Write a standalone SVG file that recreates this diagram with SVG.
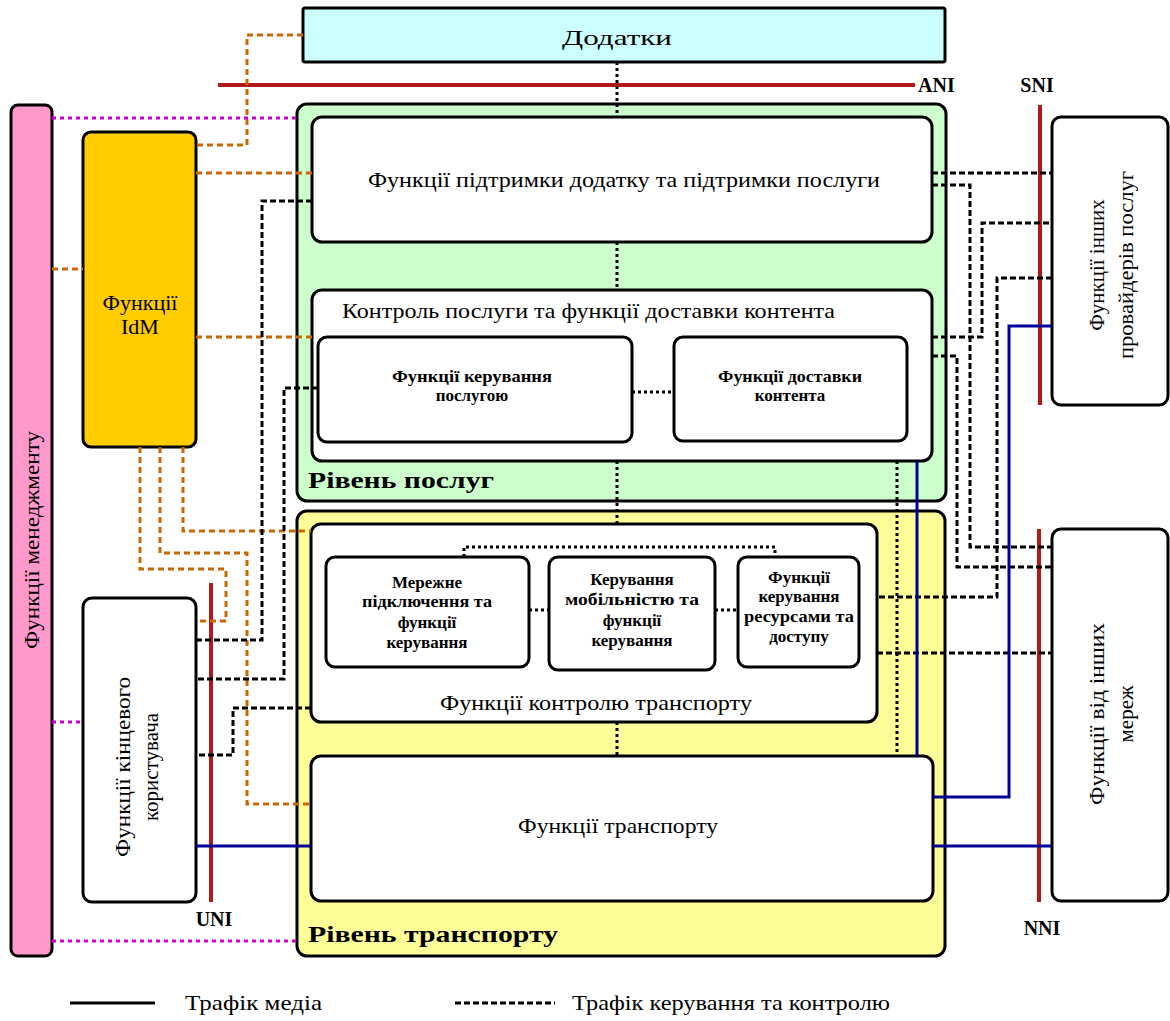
<svg xmlns="http://www.w3.org/2000/svg" width="1170" height="1021" viewBox="0 0 1170 1021">
  <style>
    .t{font-family:"Liberation Serif","DejaVu Serif Condensed","DejaVu Serif",serif;fill:#000}
    .c{text-anchor:middle}
    .b{font-weight:bold}
    .s{font-size:17px}
    .box{fill:#fff;stroke:#000;stroke-width:3}
    .ctl{fill:none;stroke:#000;stroke-width:3;stroke-dasharray:6 3}
    .dot{fill:none;stroke:#000;stroke-width:3;stroke-dasharray:3 3}
    .idm{fill:none;stroke:#cc6600;stroke-width:3;stroke-dasharray:6 4}
    .mg{fill:none;stroke:#cc00cc;stroke-width:3;stroke-dasharray:4 4}
    .media{fill:none;stroke:#000099;stroke-width:3}
    .ref{fill:none;stroke:#b01a1a;stroke-width:4}
  </style>
  <rect width="1170" height="1021" fill="#fff"/>

  <!-- strata backgrounds -->
  <g id="service-stratum">
    <rect x="297" y="104" width="649" height="397" rx="10" fill="#ccffcc" stroke="#000" stroke-width="3"/>
    <text class="t b" x="308" y="488" font-size="24" textLength="186" lengthAdjust="spacingAndGlyphs">Рівень послуг</text>
  </g>
  <g id="transport-stratum">
    <rect x="297" y="511" width="648" height="445" rx="10" fill="#ffff99" stroke="#000" stroke-width="3"/>
    <text class="t b" x="308" y="942" font-size="24" textLength="250" lengthAdjust="spacingAndGlyphs">Рівень транспорту</text>
  </g>

  <g id="applications">
    <rect x="303" y="8" width="642" height="54" rx="2" fill="#ccffff" stroke="#000" stroke-width="3"/>
    <text class="t c" x="617" y="45" font-size="22" textLength="110" lengthAdjust="spacingAndGlyphs">Додатки</text>
  </g>

  <g id="management">
    <rect x="11" y="105" width="41" height="851" rx="7" fill="#ff99cc" stroke="#000" stroke-width="3"/>
    <text class="t c" transform="translate(32,540) rotate(-90)" y="7" font-size="21" textLength="218" lengthAdjust="spacingAndGlyphs">Функції менеджменту</text>
  </g>

  <g id="idm">
    <rect x="83" y="132" width="113" height="315" rx="8" fill="#ffcc00" stroke="#000" stroke-width="3"/>
    <text class="t c" x="140" y="310" font-size="22">Функції</text>
    <text class="t c" x="140" y="334" font-size="22">IdM</text>
  </g>

  <g id="app-support">
    <rect class="box" x="312" y="117" width="620" height="125" rx="10"/>
    <text class="t c" x="624" y="187" font-size="22" textLength="512" lengthAdjust="spacingAndGlyphs">Функції підтримки додатку та підтримки послуги</text>
  </g>

  <g id="service-control">
    <rect class="box" x="312" y="290" width="620" height="171" rx="10"/>
    <text class="t" x="342" y="318" font-size="22" textLength="493" lengthAdjust="spacingAndGlyphs">Контроль послуги та функції доставки контента</text>
  </g>
  <g id="service-control-fn">
    <rect class="box" x="318" y="337" width="314" height="105" rx="9"/>
    <text class="t c b s" x="472" y="382" textLength="160" lengthAdjust="spacingAndGlyphs">Функції керування</text>
    <text class="t c b s" x="472" y="401">послугою</text>
  </g>
  <g id="content-delivery">
    <rect class="box" x="674" y="337" width="233" height="104" rx="9"/>
    <text class="t c b s" x="790" y="382" textLength="144" lengthAdjust="spacingAndGlyphs">Функції доставки</text>
    <text class="t c b s" x="790" y="401">контента</text>
  </g>

  <g id="transport-control">
    <rect class="box" x="311" y="524" width="566" height="198" rx="10"/>
    <text class="t c" x="596" y="710" font-size="22" textLength="312" lengthAdjust="spacingAndGlyphs">Функції контролю транспорту</text>
  </g>
  <g id="network-attachment">
    <rect class="box" x="326" y="557" width="203" height="110" rx="9"/>
    <text class="t c b s" x="427" y="588">Мережне</text>
    <text class="t c b s" x="427" y="607" textLength="130" lengthAdjust="spacingAndGlyphs">підключення та</text>
    <text class="t c b s" x="427" y="628">функції</text>
    <text class="t c b s" x="427" y="648">керування</text>
  </g>
  <g id="mobility">
    <rect class="box" x="549" y="557" width="166" height="113" rx="9"/>
    <text class="t c b s" x="632" y="585">Керування</text>
    <text class="t c b s" x="632" y="605" textLength="134" lengthAdjust="spacingAndGlyphs">мобільністю та</text>
    <text class="t c b s" x="632" y="626">функції</text>
    <text class="t c b s" x="632" y="646">керування</text>
  </g>
  <g id="resource-access">
    <rect class="box" x="738" y="557" width="121" height="110" rx="9"/>
    <text class="t c b s" x="799" y="583">Функції</text>
    <text class="t c b s" x="799" y="602">керування</text>
    <text class="t c b s" x="799" y="622" textLength="110" lengthAdjust="spacingAndGlyphs">ресурсами та</text>
    <text class="t c b s" x="799" y="642">доступу</text>
  </g>

  <g id="transport">
    <rect class="box" x="311" y="756" width="622" height="145" rx="10"/>
    <text class="t c" x="618" y="833" font-size="22" textLength="200" lengthAdjust="spacingAndGlyphs">Функції транспорту</text>
  </g>

  <g id="end-user">
    <rect class="box" x="83" y="598" width="113" height="304" rx="9"/>
    <g transform="translate(140,767) rotate(-90)">
      <text class="t c" y="-10" font-size="21" textLength="180" lengthAdjust="spacingAndGlyphs">Функції кінцевого</text>
      <text class="t c" y="18" font-size="21">користувача</text>
    </g>
  </g>

  <g id="other-providers">
    <rect class="box" x="1052" y="117" width="116" height="288" rx="9"/>
    <g transform="translate(1110,265) rotate(-90)">
      <text class="t c" y="-6" font-size="21">Функції інших</text>
      <text class="t c" y="23" font-size="21" textLength="188" lengthAdjust="spacingAndGlyphs">провайдерів послуг</text>
    </g>
  </g>

  <g id="other-networks">
    <rect class="box" x="1052" y="529" width="116" height="372" rx="9"/>
    <g transform="translate(1110,714) rotate(-90)">
      <text class="t c" y="-6" font-size="21" textLength="182" lengthAdjust="spacingAndGlyphs">Функції від інших</text>
      <text class="t c" y="23" font-size="21">мереж</text>
    </g>
  </g>

  <!-- reference points -->
  <g id="reference-points">
    <path class="ref" d="M218,85 H915"/>
    <path class="ref" d="M1040,105 V405"/>
    <path class="ref" d="M1039,529 V902"/>
    <path class="ref" d="M211,583 V902"/>
    <text class="t b" x="918" y="92" font-size="20">ANI</text>
    <text class="t c b" x="1037" y="92" font-size="20">SNI</text>
    <text class="t c b" x="1042" y="935" font-size="20">NNI</text>
    <text class="t c b" x="214" y="926" font-size="20">UNI</text>
  </g>

  <g id="connectors">
    <!-- identity management links -->
    <path class="idm" d="M303,35 H247 V145 H196"/>
    <path class="idm" d="M196,173 H312"/>
    <path class="idm" d="M196,337 H312"/>
    <path class="idm" d="M52,269 H83"/>
    <path class="idm" d="M183,447 V531 H311"/>
    <path class="idm" d="M160,447 V553 H247 V804 H311"/>
    <path class="idm" d="M140,447 V569 H226 V621 H196"/>
    <!-- management links -->
    <path class="mg" d="M52,118 H297"/>
    <path class="mg" d="M52,722 H83"/>
    <path class="mg" d="M52,941 H297"/>
    <!-- control traffic, user side -->
    <path class="ctl" d="M312,201 H262 V640 H196"/>
    <path class="ctl" d="M318,388 H284 V679 H196"/>
    <path class="ctl" d="M311,708 H233 V755 H196"/>
    <!-- control traffic, peer side -->
    <path class="ctl" d="M932,173 H1052"/>
    <path class="ctl" d="M932,185 H970 V547 H1052"/>
    <path class="ctl" d="M932,337 H982 V223 H1052"/>
    <path class="ctl" d="M932,356 H957 V567 H1052"/>
    <path class="ctl" d="M1052,278 H997 V597 H877"/>
    <path class="ctl" d="M877,653 H1052"/>
    <!-- internal control links -->
    <path class="dot" d="M617,62 V117"/>
    <path class="dot" d="M617,242 V290"/>
    <path class="dot" d="M632,392 H674"/>
    <path class="dot" d="M617,461 V524"/>
    <path class="dot" d="M897,461 V756"/>
    <path class="dot" d="M464,557 V547 H775 V557"/>
    <path class="dot" d="M529,610 H549"/>
    <path class="dot" d="M715,610 H738"/>
    <path class="dot" d="M617,722 V756"/>
    <!-- media traffic -->
    <path class="media" d="M196,846 H311"/>
    <path class="media" d="M933,846 H1052"/>
    <path class="media" d="M933,797 H1009 V326 H1052"/>
    <path class="media" d="M917,461 V756"/>
  </g>

  <g id="legend">
    <path d="M70,1003 H155" stroke="#000" stroke-width="3"/>
    <text class="t" x="185" y="1010" font-size="21" textLength="137" lengthAdjust="spacingAndGlyphs">Трафік медіа</text>
    <path d="M455,1003 H555" stroke="#000" stroke-width="3" stroke-dasharray="6 3"/>
    <text class="t" x="572" y="1010" font-size="21" textLength="318" lengthAdjust="spacingAndGlyphs">Трафік керування та контролю</text>
  </g>
</svg>
